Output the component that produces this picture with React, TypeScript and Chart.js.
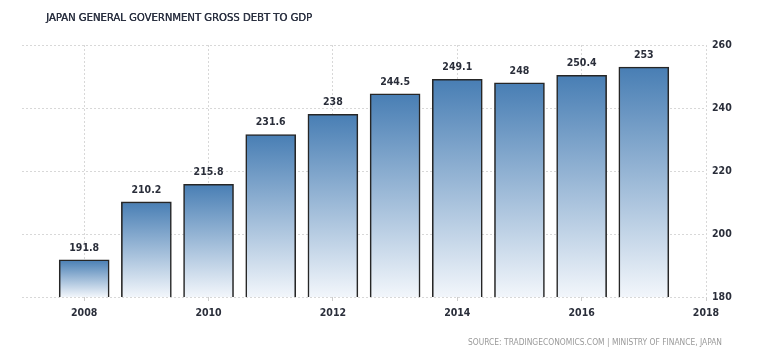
import React, { useEffect, useRef } from "react";
import { Chart, registerables } from "chart.js";

Chart.register(...registerables);

const years = [2008, 2009, 2010, 2011, 2012, 2013, 2014, 2015, 2016, 2017];
const debtValues = [191.8, 210.2, 215.8, 231.6, 238, 244.5, 249.1, 248, 250.4, 253];
const xTickYears = [2008, 2010, 2012, 2014, 2016, 2018];
const yTickValues = [180, 200, 220, 240, 260];
const titleText = "JAPAN GENERAL GOVERNMENT GROSS DEBT TO GDP";
const sourceText = "SOURCE: TRADINGECONOMICS.COM | MINISTRY OF FINANCE, JAPAN";

const FONT = "'DejaVu Sans Condensed', 'Liberation Sans', sans-serif";

const textPlugin = {
  id: "textPlugin",
  afterDatasetsDraw(chart: any) {
    const ctx = chart.ctx;
    ctx.save();
    const meta = chart.getDatasetMeta(0);
    ctx.font = `bold 10.5px ${FONT}`;
    ctx.fillStyle = "#2a2e3a";
    ctx.textAlign = "center";
    ctx.textBaseline = "middle";
    meta.data.forEach((el: any, i: number) => {
      ctx.fillText(String(debtValues[i]), el.x, el.y - 12);
    });
    ctx.restore();
  },
  afterDraw(chart: any) {
    const ctx = chart.ctx;
    ctx.save();
    ctx.font = `11.2px ${FONT}`;
    ctx.fillStyle = "#2a3040";
    ctx.textAlign = "left";
    ctx.textBaseline = "middle";
    ctx.fillText(titleText, 46, 18);
    ctx.fillText(titleText, 46.4, 18);
    ctx.font = `8.4px ${FONT}`;
    ctx.fillStyle = "#9a9a9a";
    ctx.textAlign = "right";
    ctx.fillText(sourceText, 722, 343);
    ctx.restore();
  },
};

export default function App() {
  const ref = useRef<HTMLCanvasElement | null>(null);
  useEffect(() => {
    if (!ref.current) return;
    const chart = new Chart(ref.current, {
      type: "bar",
      data: {
        datasets: [
          {
            data: years.map((y, i) => ({ x: y, y: debtValues[i] })) as any,
            barThickness: 50,
            borderColor: "#262626",
            borderWidth: 1.6,
            borderSkipped: false,
            backgroundColor: (c: any) => {
              const chartObj = c.chart;
              const ys = chartObj.scales?.y;
              if (!ys || !chartObj.chartArea || c.dataIndex === undefined) return "#6f9ac6";
              const v = debtValues[c.dataIndex];
              const top = ys.getPixelForValue(v);
              const bottom = ys.getPixelForValue(180);
              if (!isFinite(top) || !isFinite(bottom)) return "#6f9ac6";
              const g = chartObj.ctx.createLinearGradient(0, top, 0, bottom);
              g.addColorStop(0, "rgb(72,126,180)");
              g.addColorStop(1, "rgb(242,246,251)");
              return g;
            },
          },
        ],
      },
      options: {
        animation: false,
        responsive: false,
        maintainAspectRatio: false,
        layout: { padding: { left: 22, right: 22, top: 45, bottom: 0 } },
        plugins: { legend: { display: false }, tooltip: { enabled: false }, title: { display: false } },
        scales: {
          x: {
            type: "linear",
            min: 2007,
            max: 2018,
            offset: false,
            afterBuildTicks: (s: any) => {
              s.ticks = xTickYears.map((v) => ({ value: v }));
            },
            afterFit: (s: any) => {
              s.height = 61;
            },
            ticks: {
              callback: (v: any) => String(v),
              color: "#2a2e3a",
              font: { family: FONT, size: 10.5, weight: "bold" },
              padding: 6,
              maxRotation: 0,
              autoSkip: false,
            },
            grid: { color: "#d8d8d8", tickLength: 4, tickColor: "#cccccc", offset: false },
            border: { display: false, dash: [2, 2] },
          },
          y: {
            position: "right",
            min: 180,
            max: 260,
            afterBuildTicks: (s: any) => {
              s.ticks = yTickValues.map((v) => ({ value: v }));
            },
            afterFit: (s: any) => {
              s.width = 40;
            },
            ticks: {
              color: "#2a2e3a",
              font: { family: FONT, size: 10.5, weight: "bold" },
              padding: 6,
            },
            grid: { color: "#d8d8d8", drawTicks: false },
            border: { display: false, dash: [2, 2] },
          },
        },
      },
      plugins: [textPlugin],
    });
    chart.update();
    return () => chart.destroy();
  }, []);
  return (
    <div style={{ position: "absolute", left: 0, top: 0, width: 768, height: 358, background: "#fff" }}>
      <canvas ref={ref} width={768} height={358} style={{ width: 768, height: 358 }} />
    </div>
  );
}
